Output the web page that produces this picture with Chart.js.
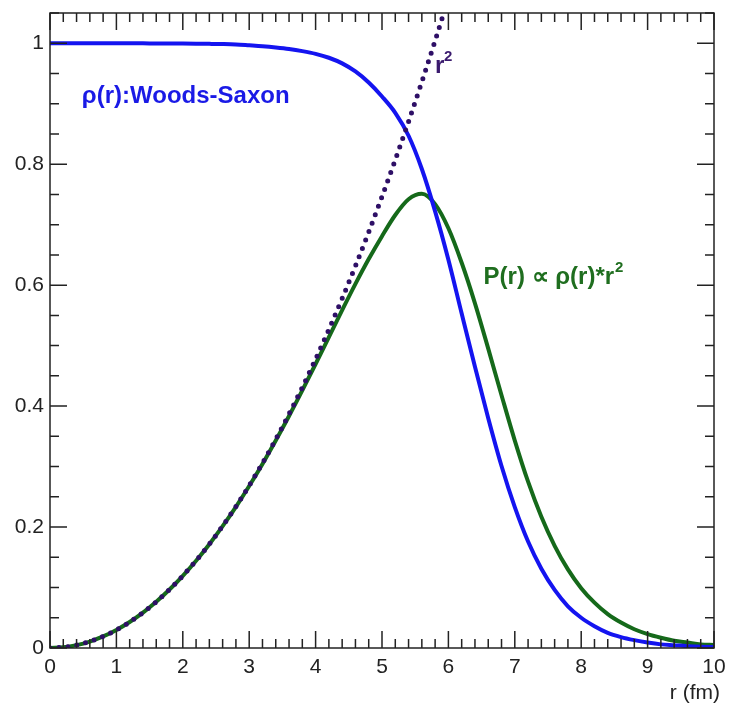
<!DOCTYPE html>
<html>
<head>
<meta charset="utf-8">
<script src="https://cdn.jsdelivr.net/npm/chart.js@4/dist/chart.umd.min.js"></script>
<style>
  html, body { margin: 0; padding: 0; background: #fff; }
  #wrap { width: 730px; height: 705px; }
</style>
</head>
<body>
<div id="wrap"><canvas id="nuclearChart" width="730" height="705"></canvas></div>
<script>
// r in fm, sampled every 0.2 fm
const radius = [0, 0.2, 0.4, 0.6, 0.8, 1.0, 1.2, 1.4, 1.6, 1.8, 2.0, 2.2, 2.4, 2.6, 2.8, 3.0, 3.2, 3.4, 3.6, 3.8,
                4.0, 4.2, 4.4, 4.6, 4.8, 5.0, 5.2, 5.4, 5.6, 5.8, 6.0, 6.2, 6.4, 6.6, 6.8, 7.0, 7.2, 7.4, 7.6, 7.8,
                8.0, 8.2, 8.4, 8.6, 8.8, 9.0, 9.2, 9.4, 9.6, 9.8, 10.0];

// rho(r): Woods-Saxon density (blue)
const woodsSaxon = [1.000, 1.000, 1.000, 1.000, 1.000, 1.000, 0.9999, 0.9998, 0.9997, 0.9996, 0.9995, 0.9993, 0.9990, 0.9986, 0.9979,
                    0.9965, 0.9950, 0.9930, 0.9905, 0.9870, 0.9825, 0.9760, 0.9667, 0.9533, 0.935, 0.912, 0.885, 0.847, 0.792, 0.722,
                    0.642, 0.553, 0.465, 0.380, 0.301, 0.233, 0.176, 0.131, 0.096, 0.069, 0.050, 0.036, 0.025, 0.018, 0.013,
                    0.009, 0.006, 0.0045, 0.003, 0.002, 0.0016];

// P(r) ~ rho(r)*r^2 (green)
const probability = [0, 0.0012, 0.0048, 0.0107, 0.0191, 0.0299, 0.0430, 0.0585, 0.0764, 0.0967, 0.1193, 0.1444, 0.1717, 0.2015, 0.2335,
                     0.2679, 0.3044, 0.3431, 0.3836, 0.4259, 0.4696, 0.5141, 0.5587, 0.6021, 0.6431, 0.681, 0.716, 0.742, 0.751, 0.734,
                     0.694, 0.637, 0.570, 0.495, 0.418, 0.343, 0.275, 0.217, 0.169, 0.130, 0.099, 0.075, 0.056, 0.042, 0.031,
                     0.023, 0.017, 0.012, 0.009, 0.006, 0.005];

// r^2 (dotted), only drawn up to r = 6 fm where it leaves the frame
const rSquared = [0, 0.0012, 0.0048, 0.0107, 0.0191, 0.0299, 0.0430, 0.0585, 0.0764, 0.0967, 0.1194, 0.1445, 0.1719, 0.2018, 0.2340,
                  0.2687, 0.3057, 0.3451, 0.3869, 0.4310, 0.4776, 0.5266, 0.5779, 0.6316, 0.6878, 0.7463, 0.8072, 0.8704, 0.9361, 1.0042,
                  1.0746];

const xTicks = [0, 1, 2, 3, 4, 5, 6, 7, 8, 9, 10];
const yTicks = [0, 0.2, 0.4, 0.6, 0.8, 1];

const toPoints = (ys) => ys.map((y, i) => ({ x: radius[i], y: y }));

const FONT = '"Liberation Sans", Arial, Helvetica, sans-serif';

// ROOT-like frame with inward ticks on all four sides, plus the curve labels
const frameTicks = {
  id: 'frameTicks',
  afterDraw(chart) {
    const ctx = chart.ctx;
    const a = chart.chartArea;
    const xs = chart.scales.x, ys = chart.scales.y;
    ctx.save();
    ctx.strokeStyle = '#222';
    ctx.lineWidth = 1.5;
    ctx.strokeRect(a.left, a.top, a.right - a.left, a.bottom - a.top);
    ctx.beginPath();
    for (let i = 0; i <= 50; i++) {
      const px = xs.getPixelForValue(i / 5);
      const len = i % 5 === 0 ? 17 : 9;
      ctx.moveTo(px, a.bottom); ctx.lineTo(px, a.bottom - len);
      ctx.moveTo(px, a.top); ctx.lineTo(px, a.top + len);
    }
    for (let i = 0; i <= 21; i++) {
      const py = ys.getPixelForValue(i * 0.05);
      const len = i % 4 === 0 ? 17 : 9;
      ctx.moveTo(a.left, py); ctx.lineTo(a.left + len, py);
      ctx.moveTo(a.right, py); ctx.lineTo(a.right - len, py);
    }
    ctx.stroke();

    // axis title
    ctx.fillStyle = '#222';
    ctx.font = '21px ' + FONT;
    ctx.textAlign = 'right';
    ctx.textBaseline = 'middle';
    ctx.fillText('r (fm)', a.right + 6, 693);

    ctx.textAlign = 'left';
    ctx.font = 'bold 24px ' + FONT;
    ctx.fillStyle = '#1a1ae6';
    ctx.fillText('ρ(r):Woods-Saxon', xs.getPixelForValue(0.48), ys.getPixelForValue(0.912));

    ctx.fillStyle = '#3a1a6e';
    ctx.font = 'bold 24px ' + FONT;
    const rx = xs.getPixelForValue(5.8), ry = ys.getPixelForValue(0.962);
    ctx.fillText('r', rx, ry);
    ctx.font = 'bold 15px ' + FONT;
    ctx.fillText('2', rx + 9, ry - 9);

    ctx.fillStyle = '#1f6e1f';
    ctx.font = 'bold 24px ' + FONT;
    const px = xs.getPixelForValue(6.53), py = ys.getPixelForValue(0.613);
    const main = 'P(r) ∝ ρ(r)*r';
    ctx.fillText(main, px, py);
    const w = ctx.measureText(main).width;
    ctx.font = 'bold 15px ' + FONT;
    ctx.fillText('2', px + w + 1, py - 9);
    ctx.restore();
  }
};

new Chart(document.getElementById('nuclearChart'), {
  type: 'line',
  data: {
    datasets: [
      {
        label: 'r^2',
        data: toPoints(rSquared),
        borderColor: '#2e0f66',
        borderWidth: 5,
        borderDash: [0, 9],
        borderCapStyle: 'round',
        pointRadius: 0,
        fill: false,
        cubicInterpolationMode: 'monotone'
      },
      {
        label: 'rho(r)',
        data: toPoints(woodsSaxon),
        borderColor: '#1414f0',
        borderWidth: 4,
        pointRadius: 0,
        fill: false,
        cubicInterpolationMode: 'monotone'
      },
      {
        label: 'P(r)',
        data: toPoints(probability),
        borderColor: '#15691a',
        borderWidth: 4,
        pointRadius: 0,
        fill: false,
        cubicInterpolationMode: 'monotone'
      }
    ]
  },
  options: {
    responsive: false,
    animation: false,
    layout: { padding: { top: 13, right: 16, left: 0, bottom: 0 } },
    plugins: { legend: { display: false }, tooltip: { enabled: false } },
    scales: {
      x: {
        type: 'linear',
        min: 0,
        max: 10,
        grid: { display: false, drawTicks: false },
        border: { display: false },
        afterFit: (s) => { s.height = 57; s.paddingLeft = 0; s.paddingRight = 0; },
        afterBuildTicks: (s) => { s.ticks = xTicks.map(v => ({ value: v })); },
        ticks: {
          padding: 7,
          color: '#222',
          font: { family: FONT, size: 21 },
          maxRotation: 0,
          callback: (v) => String(v)
        }
      },
      y: {
        type: 'linear',
        min: 0,
        max: 1.05,
        grid: { display: false, drawTicks: false },
        border: { display: false },
        afterFit: (s) => { s.width = 50; s.paddingTop = 0; s.paddingBottom = 0; },
        afterBuildTicks: (s) => { s.ticks = yTicks.map(v => ({ value: v })); },
        ticks: {
          padding: 6,
          color: '#222',
          font: { family: FONT, size: 21 },
          callback: (v) => String(+v.toFixed(2))
        }
      }
    }
  },
  plugins: [frameTicks]
});
</script>
</body>
</html>
